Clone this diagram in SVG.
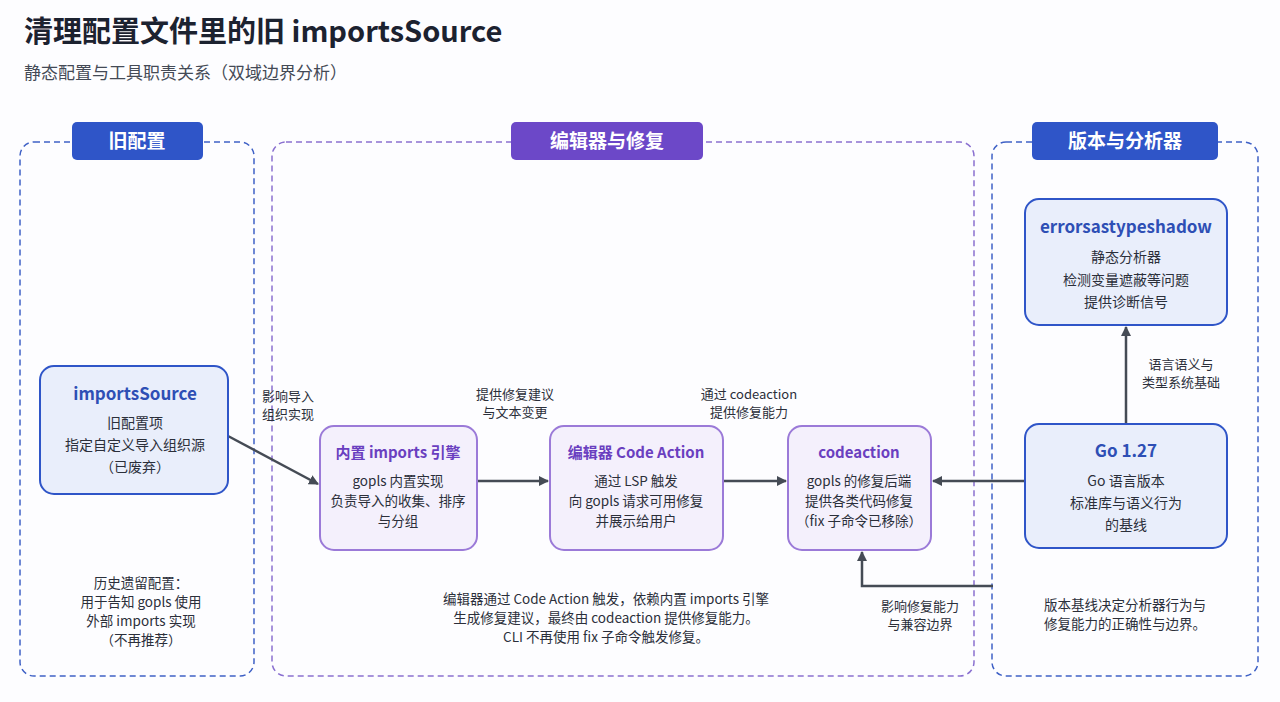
<svg xmlns="http://www.w3.org/2000/svg" width="1280" height="702" viewBox="0 0 1280 702">
<style>
text{font-family:"Noto Sans CJK SC","Noto Sans",sans-serif;fill:#2b2f3a}
.t{font-size:13.5px;text-anchor:middle}
.lbl{font-size:13px}
.hd{font-size:19px;font-weight:700;fill:#fff;text-anchor:middle}
.bn{fill:#e9eefb;stroke:#2f55c8;stroke-width:2}
.pn{fill:#f4f0fc;stroke:#9b7ad8;stroke-width:2}
.bt{font-size:17px;font-weight:700;fill:#2e4fb5;text-anchor:middle}
.pt{font-size:15px;font-weight:700;fill:#6a3fc0;text-anchor:middle}
.e{stroke:#454b55;stroke-width:2.5;fill:none;marker-end:url(#a)}
</style>
<defs><marker id="a" markerWidth="10" markerHeight="10" refX="9" refY="5" orient="auto" markerUnits="userSpaceOnUse" viewBox="0 0 10 10"><path d="M0,0L10,5L0,10z" fill="#454b55"/></marker></defs>
<rect width="1280" height="702" fill="#fdfdff"/>
<text x="24" y="42" style="font-size:29px;font-weight:700;fill:#1c2230">清理配置文件里的旧 importsSource</text>
<text x="24" y="79" style="font-size:17px;fill:#444a56">静态配置与工具职责关系（双域边界分析）</text>
<g id="col-old"><rect x="20" y="142" width="234" height="534" rx="14" fill="none" stroke="#3f61c6" stroke-width="1.5" stroke-dasharray="6 4"/><rect x="72" y="122" width="131" height="38" rx="5" fill="#2f55c8"/><text x="137" y="148" class="hd">旧配置</text></g>
<g id="col-editor"><rect x="272" y="142" width="702" height="534" rx="14" fill="none" stroke="#8a70d0" stroke-width="1.5" stroke-dasharray="6 4"/><rect x="511" y="122" width="192" height="38" rx="5" fill="#6c48c8"/><text x="607" y="148" class="hd">编辑器与修复</text></g>
<g id="col-ver"><rect x="992" y="142" width="266" height="534" rx="14" fill="none" stroke="#3f61c6" stroke-width="1.5" stroke-dasharray="6 4"/><rect x="1032" y="122" width="186" height="38" rx="5" fill="#2f55c8"/><text x="1125" y="148" class="hd">版本与分析器</text></g>
<g id="connectors">
<path class="e" d="M228,436L318,484"/>
<path class="e" d="M477,481L548,481"/>
<path class="e" d="M723,481L786,481"/>
<path class="e" d="M1025,481L933,481"/>
<path class="e" d="M1126,424L1126,327"/>
<path class="e" d="M993,586L862,586L862,552"/>
<text x="262" y="401" class="lbl">影响导入</text><text x="262" y="419" class="lbl">组织实现</text>
<text x="515" y="399" class="lbl" text-anchor="middle">提供修复建议</text><text x="515" y="417" class="lbl" text-anchor="middle">与文本变更</text>
<text x="749" y="399" class="lbl" text-anchor="middle">通过 codeaction</text><text x="749" y="417" class="lbl" text-anchor="middle">提供修复能力</text>
<text x="1181" y="369" class="lbl" text-anchor="middle">语言语义与</text><text x="1181" y="387" class="lbl" text-anchor="middle">类型系统基础</text>
<text x="920" y="611" class="lbl" text-anchor="middle">影响修复能力</text><text x="920" y="629" class="lbl" text-anchor="middle">与兼容边界</text>
</g>
<g id="importsSource"><rect x="40" y="366" width="188" height="128" rx="14" class="bn"/><text x="135" y="400" class="bt">importsSource</text><text x="135" y="428" class="t" style="font-size:14px">旧配置项</text><text x="135" y="450" class="t" style="font-size:14px">指定自定义导入组织源</text><text x="135" y="472" class="t" style="font-size:14px">（已废弃）</text></g>
<g id="imports-engine"><rect x="320" y="426" width="157" height="124" rx="14" class="pn"/><text x="398" y="458" class="pt">内置 imports 引擎</text><text x="398" y="486" class="t">gopls 内置实现</text><text x="398" y="506" class="t">负责导入的收集、排序</text><text x="398" y="526" class="t">与分组</text></g>
<g id="code-action"><rect x="550" y="426" width="173" height="124" rx="14" class="pn"/><text x="636" y="458" class="pt">编辑器 Code Action</text><text x="636" y="486" class="t">通过 LSP 触发</text><text x="636" y="506" class="t">向 gopls 请求可用修复</text><text x="636" y="526" class="t">并展示给用户</text></g>
<g id="codeaction"><rect x="788" y="426" width="143" height="124" rx="14" class="pn"/><text x="859" y="458" class="pt">codeaction</text><text x="859" y="486" class="t">gopls 的修复后端</text><text x="859" y="506" class="t">提供各类代码修复</text><text x="859" y="526" class="t">（fix 子命令已移除）</text></g>
<g id="go127"><rect x="1025" y="424" width="202" height="124" rx="14" class="bn"/><text x="1126" y="457" class="bt">Go 1.27</text><text x="1126" y="486" class="t" style="font-size:14px">Go 语言版本</text><text x="1126" y="508" class="t" style="font-size:14px">标准库与语义行为</text><text x="1126" y="530" class="t" style="font-size:14px">的基线</text></g>
<g id="errorsastypeshadow"><rect x="1025" y="199" width="202" height="126" rx="14" class="bn"/><text x="1126" y="233" class="bt">errorsastypeshadow</text><text x="1126" y="262" class="t" style="font-size:14px">静态分析器</text><text x="1126" y="285" class="t" style="font-size:14px">检测变量遮蔽等问题</text><text x="1126" y="307" class="t" style="font-size:14px">提供诊断信号</text></g>
<g id="notes">
<text x="141" y="588" class="t">历史遗留配置：</text><text x="141" y="607" class="t">用于告知 gopls 使用</text><text x="141" y="626" class="t">外部 imports 实现</text><text x="141" y="645" class="t">（不再推荐）</text>
<text x="606" y="604" class="t">编辑器通过 Code Action 触发，依赖内置 imports 引擎</text><text x="606" y="623" class="t">生成修复建议，最终由 codeaction 提供修复能力。</text><text x="606" y="642" class="t">CLI 不再使用 fix 子命令触发修复。</text>
<text x="1125" y="610" class="t">版本基线决定分析器行为与</text><text x="1125" y="629" class="t">修复能力的正确性与边界。</text>
</g>
</svg>
